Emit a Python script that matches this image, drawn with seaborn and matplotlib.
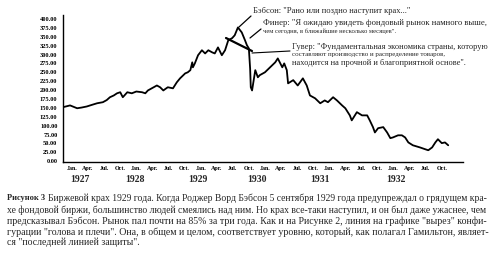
import matplotlib
matplotlib.use("Agg")
import matplotlib.pyplot as plt
import seaborn as sns
import pandas as pd
from matplotlib.lines import Line2D

# ---------------- data (Dow Jones Industrial Average) -------------
dates = [1926.86, 1926.97, 1927.08, 1927.15, 1927.23, 1927.30, 1927.39, 1927.48, 1927.54,
         1927.59, 1927.65, 1927.70, 1927.75, 1927.79, 1927.83, 1927.86, 1927.93, 1928.00,
         1928.09, 1928.14, 1928.18, 1928.25, 1928.32, 1928.37, 1928.42, 1928.45, 1928.49,
         1928.57, 1928.63, 1928.68, 1928.72, 1928.76, 1928.80, 1928.84, 1928.87, 1928.88,
         1928.91, 1928.96, 1929.02, 1929.07, 1929.12, 1929.18, 1929.22, 1929.27, 1929.33,
         1929.38, 1929.43, 1929.49, 1929.53, 1929.58, 1929.64, 1929.69, 1929.72, 1929.75,
         1929.77, 1929.78, 1929.80, 1929.85, 1929.89, 1929.92, 1930.00, 1930.08, 1930.16,
         1930.20, 1930.27, 1930.30, 1930.34, 1930.36, 1930.44, 1930.51, 1930.59, 1930.65,
         1930.70, 1930.78, 1930.86, 1930.93, 1930.98, 1931.06, 1931.12, 1931.20, 1931.25,
         1931.32, 1931.35, 1931.43, 1931.51, 1931.59, 1931.63, 1931.68, 1931.71, 1931.76,
         1931.84, 1931.90, 1931.95, 1931.99, 1932.07, 1932.13, 1932.18, 1932.23, 1932.30,
         1932.41, 1932.49, 1932.54, 1932.60, 1932.65, 1932.69, 1932.75, 1932.80, 1932.85]
djia = [152, 157, 149, 151, 154, 158, 163, 166, 172,
        180, 185, 191, 194, 180, 188, 194, 191, 196,
        194, 191, 199, 206, 213, 208, 199, 203, 208,
        205, 222, 233, 240, 247, 250, 256, 278, 264,
        275, 298, 312, 303, 312, 306, 303, 320, 298,
        312, 340, 346, 354, 376, 362, 340, 326, 317,
        260, 208, 199, 256, 236, 242, 250, 264, 278,
        289, 264, 275, 256, 219, 228, 213, 233, 213,
        185, 177, 163, 171, 166, 180, 171, 157, 149,
        129, 115, 138, 129, 129, 115, 96, 81, 93,
        96, 81, 65, 67, 73, 73, 67, 53, 45,
        39, 34, 31, 39, 53, 62, 51, 53, 45]

quarter_pos = [1927 + 0.25 * i for i in range(24)]
quarter_labels = ["Jan.", "Apr.", "Jul.", "Oct."] * 6
year_labels = ["1927", "1928", "1929", "1930", "1931", "1932"]
year_label_pos = [1927.12, 1927.98, 1928.96, 1929.88, 1930.86, 1932.03]
y_ticks = [25 * i for i in range(17)]

babson = 'Бэбсон: "Рано или поздно наступит крах..."'
finer = ['Финер: "Я ожидаю увидеть фондовый рынок намного выше,',
         'чем сегодня, в ближайшие несколько месяцев".']
hoover = ['Гувер: "Фундаментальная экономика страны, которую',
          'составляют производство и распределение товаров,',
          'находится на прочной и благоприятной основе".']
caption_head = "Рисунок 3"
caption = [
    "Биржевой крах 1929 года. Когда Роджер Ворд Бэбсон 5 сентября 1929 года предупреждал о грядущем кра-",
    "хе фондовой биржи, большинство людей смеялись над ним. Но крах все-таки наступил, и он был даже ужаснее, чем",
    "предсказывал Бэбсон. Рынок пал почти на 85% за три года. Как и на Рисунке 2, линия на графике \"вырез\" конфи-",
    "гурации \"голова и плечи\". Она, в общем и целом, соответствует уровню, который, как полагал Гамильтон, являет-",
    "ся \"последней линией защиты\".",
]

# ---------------- figure ----------------
sns.set_style("white")
plt.rcParams["font.family"] = ["Liberation Serif", "DejaVu Serif"]

W, H = 499, 258
fig = plt.figure(figsize=(W / 100, H / 100), dpi=100)
fig.patch.set_facecolor("white")

def fx(px):
    return px / W

def fy(py):
    return 1 - py / H

ax = fig.add_axes([fx(63), fy(162), fx(463) - fx(63), fy(15) - fy(162)])
df = pd.DataFrame({"date": dates, "djia": djia})
sns.lineplot(data=df, x="date", y="djia", ax=ax, color="black", lw=1.3, estimator=None)

ax.set_xlim(1926.86, 1933.08)
ax.set_ylim(-2, 411)
ax.set_xlabel("")
ax.set_ylabel("")
for s in ["top", "right"]:
    ax.spines[s].set_visible(False)
for s in ["left", "bottom"]:
    ax.spines[s].set_color("black")
    ax.spines[s].set_linewidth(1.0)

ax.set_yticks(y_ticks)
ax.set_yticklabels([f"{v:.2f}" for v in y_ticks], fontsize=4.6, fontweight="bold")
ax.set_xticks(quarter_pos)
ax.set_xticklabels(quarter_labels, fontsize=4.3, fontweight="bold")
ax.set_xticks([1926.92 + i / 12 for i in range(74)], minor=True)
ax.tick_params(axis="y", direction="in", length=2, width=0.8, pad=4, colors="black")
ax.tick_params(axis="x", which="major", direction="in", length=3, width=0.8, pad=3, colors="black")
ax.tick_params(axis="x", which="minor", direction="in", length=1.5, width=0.6)
ax.set_facecolor("none")

for lbl, pos in zip(year_labels, year_label_pos):
    ax.text(pos, -0.12, lbl, transform=ax.get_xaxis_transform(), ha="center", va="center",
            fontsize=7, fontweight="bold")

# ---------------- annotations ----------------
def line(x0, y0, x1, y1, lw=0.9, ls="-"):
    fig.add_artist(Line2D([fx(x0), fx(x1)], [fy(y0), fy(y1)], color="black", lw=lw, ls=ls))

fig.text(fx(253), fy(11), babson, fontsize=6.1, va="center", ha="left")
fig.text(fx(263), fy(23), finer[0], fontsize=6.2, va="center", ha="left")
fig.text(fx(263), fy(31), finer[1], fontsize=4.8, va="center", ha="left")
fig.text(fx(292), fy(47), hoover[0], fontsize=6.0, va="center", ha="left")
fig.text(fx(292), fy(55), hoover[1], fontsize=5.0, va="center", ha="left")
fig.text(fx(292), fy(63), hoover[2], fontsize=6.0, va="center", ha="left")

line(251, 16, 239, 27)
line(261, 29, 250, 38)
line(252, 53, 290, 51, lw=0.8)
line(226, 38, 252, 51, lw=1.6)

# ---------------- caption (justified lines) ----------------
renderer = fig.canvas.get_renderer()
cap_y = [198, 210, 221, 232, 242]
left_px, right_px = 7, 492
for i, (body, y) in enumerate(zip(caption, cap_y)):
    x0 = left_px
    if i == 0:
        h = fig.text(fx(x0), fy(y), caption_head, fontsize=6.0, fontweight="bold",
                     va="center", ha="left")
        x0 = h.get_window_extent(renderer).x1 + 3
    size = 6.0 if i == 0 else 7.0
    t = fig.text(fx(x0), fy(y), body, fontsize=size, va="center", ha="left")
    if i < len(caption) - 1:
        w = t.get_window_extent(renderer).width
        t.set_fontsize(size * (right_px - x0) / w)

fig.savefig("out.png", dpi=100, facecolor="white")
